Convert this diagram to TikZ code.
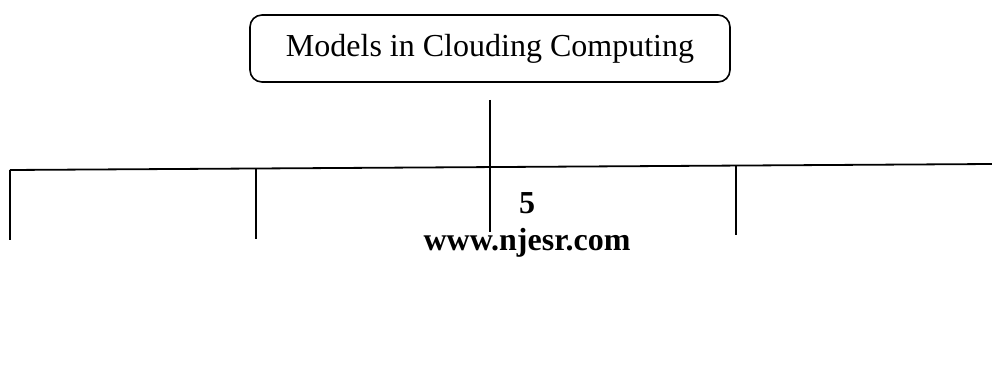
\documentclass[tikz,border=0pt]{standalone}
\usepackage{fontspec}
\setmainfont{Liberation Serif}
\begin{document}
\begin{tikzpicture}[x=1pt,y=-1pt,
  ln/.style={line width=1.8pt,black},
  titlebox/.style={draw,line width=1.6pt,rounded corners=12pt,minimum width=480pt,minimum height=67pt,inner sep=0pt,font=\fontsize{32}{36}\selectfont},
  boldtxt/.style={inner sep=0pt,font=\fontsize{32}{36}\selectfont\bfseries}]
\useasboundingbox (0,0) rectangle (992,390);
\node[titlebox] (title) at (490,48.5) {Models in Clouding Computing};
\coordinate (ctop) at (490,100);
\coordinate (cbot) at (490,232);
\coordinate (hl) at (10,170);
\coordinate (hr) at (992,164);
\coordinate (v1t) at (10,170);
\coordinate (v1b) at (10,240);
\coordinate (v2t) at (256,169);
\coordinate (v2b) at (256,239);
\coordinate (v3t) at (736,166);
\coordinate (v3b) at (736,235);
\draw[ln] (ctop) -- (cbot);
\draw[ln] (hl) -- (hr);
\draw[ln] (v1t) -- (v1b);
\draw[ln] (v2t) -- (v2b);
\draw[ln] (v3t) -- (v3b);
\node[boldtxt] (page) at (527,203) {5};
\node[boldtxt] (url) at (527,243) {www.njesr.com};
\end{tikzpicture}
\end{document}
